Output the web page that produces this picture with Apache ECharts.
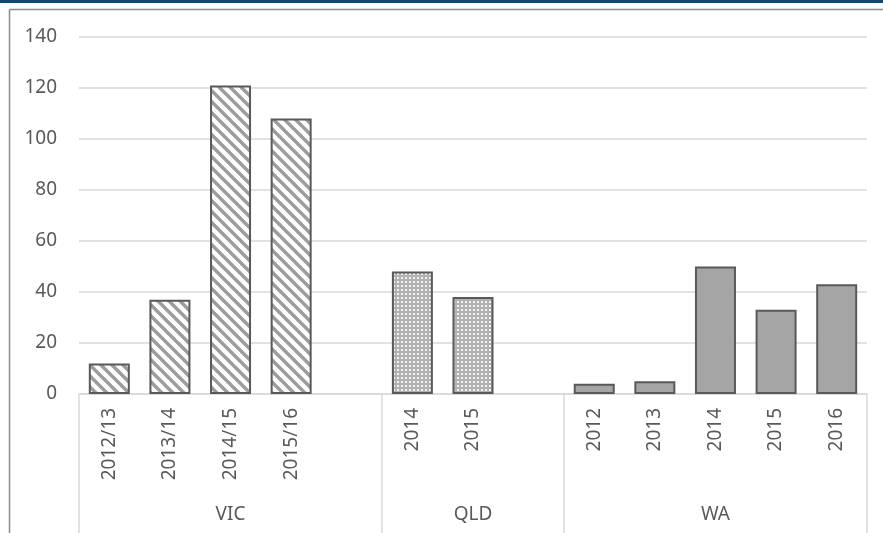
<!DOCTYPE html>
<html>
<head>
<meta charset="utf-8">
<script src="https://cdn.jsdelivr.net/npm/echarts@6/dist/echarts.min.js"></script>
<style>
  html, body { margin: 0; padding: 0; background: #fff; }
  #main { width: 883px; height: 533px; }
</style>
</head>
<body>
<div id="main"></div>
<script>
// groups and their years (a blank slot follows VIC and QLD)
var groups = ['VIC', 'QLD', 'WA'];
var vicYears = ['2012/13', '2013/14', '2014/15', '2015/16'];
var qldYears = ['2014', '2015'];
var waYears = ['2012', '2013', '2014', '2015', '2016'];
var vicValues = [12, 37, 121, 108];
var qldValues = [48, 38];
var waValues = [4, 5, 50, 33, 43];
var yTicks = [0, 20, 40, 60, 80, 100, 120, 140];

// category list with gaps
var categories = vicYears.concat(['']).concat(qldYears).concat(['']).concat(waYears);
var groupSizes = [vicYears.length + 1, qldYears.length + 1, waYears.length];
var bounds = [0];
groupSizes.forEach(function (n, i) { bounds.push(bounds[i] + n); });
var centers = groups.map(function (g, i) { return (bounds[i] + bounds[i + 1]) / 2; });

function pad(values, start) {
    var out = categories.map(function () { return '-'; });
    values.forEach(function (v, i) { out[start + i] = v; });
    return out;
}

// fill patterns
function hatch() {
    var s = 11, c = document.createElement('canvas');
    c.width = s; c.height = s;
    var ctx = c.getContext('2d');
    ctx.fillStyle = '#fff';
    ctx.fillRect(0, 0, s, s);
    ctx.strokeStyle = '#9c9c9c';
    ctx.lineWidth = 3.4;
    [-s, 0, s].forEach(function (o) {
        ctx.beginPath();
        ctx.moveTo(o - 1, -1);
        ctx.lineTo(o + s + 1, s + 1);
        ctx.stroke();
    });
    return c;
}
function dots() {
    var c = document.createElement('canvas');
    c.width = 4; c.height = 4;
    var ctx = c.getContext('2d');
    ctx.fillStyle = '#b2b2b2';
    ctx.fillRect(0, 0, 4, 4);
    ctx.fillStyle = '#f2f2f2';
    ctx.fillRect(1, 1, 2, 2);
    return c;
}

var font = 'Noto Sans';
var myChart = echarts.init(document.getElementById('main'));

var option = {
    animation: false,
    grid: { left: 79, right: 16, top: 37, bottom: 139 },
    graphic: [
        { type: 'rect', shape: { x: 0, y: 0, width: 883, height: 3 }, style: { fill: '#0d4a6d' } },
        { type: 'line', shape: { x1: 9.5, y1: 9.5, x2: 883, y2: 9.5 }, style: { stroke: '#8c8c8c', lineWidth: 1.5 } },
        { type: 'line', shape: { x1: 9.5, y1: 9.5, x2: 9.5, y2: 533 }, style: { stroke: '#8c8c8c', lineWidth: 1.5 } }
    ],
    xAxis: [{
        type: 'category',
        data: categories,
        axisLine: { lineStyle: { color: '#d9d9d9', width: 1.5 } },
        axisTick: { show: false },
        axisLabel: {
            rotate: 90, margin: 14, interval: 0,
            color: '#595959', fontSize: 19, fontFamily: font
        }
    }, {
        type: 'value',
        min: 0, max: bounds[bounds.length - 1],
        position: 'bottom',
        axisLine: { show: false },
        splitLine: { show: false },
        axisTick: {
            show: true, length: 150, customValues: bounds,
            lineStyle: { color: '#d9d9d9', width: 1.5 }
        },
        axisLabel: {
            customValues: centers, margin: 111,
            color: '#595959', fontSize: 19, fontFamily: font,
            formatter: function (v) { return groups[centers.indexOf(v)]; }
        }
    }],
    yAxis: {
        type: 'value',
        min: yTicks[0], max: yTicks[yTicks.length - 1], interval: 20,
        axisLine: { show: false },
        axisTick: { show: false },
        axisLabel: { margin: 22, color: '#595959', fontSize: 19, fontFamily: font },
        splitLine: { lineStyle: { color: '#d9d9d9', width: 1.5 } }
    },
    series: [{
        name: 'VIC', type: 'bar', barWidth: 41, barGap: '-100%',
        data: pad(vicValues, bounds[0]),
        itemStyle: { color: { image: hatch(), repeat: 'repeat' }, borderColor: '#595959', borderWidth: 2 }
    }, {
        name: 'QLD', type: 'bar', barWidth: 41, barGap: '-100%',
        data: pad(qldValues, bounds[1]),
        itemStyle: { color: { image: dots(), repeat: 'repeat' }, borderColor: '#595959', borderWidth: 2 }
    }, {
        name: 'WA', type: 'bar', barWidth: 41, barGap: '-100%',
        data: pad(waValues, bounds[2]),
        itemStyle: { color: '#a5a5a5', borderColor: '#595959', borderWidth: 2 }
    }]
};

myChart.setOption(option);
</script>
</body>
</html>
